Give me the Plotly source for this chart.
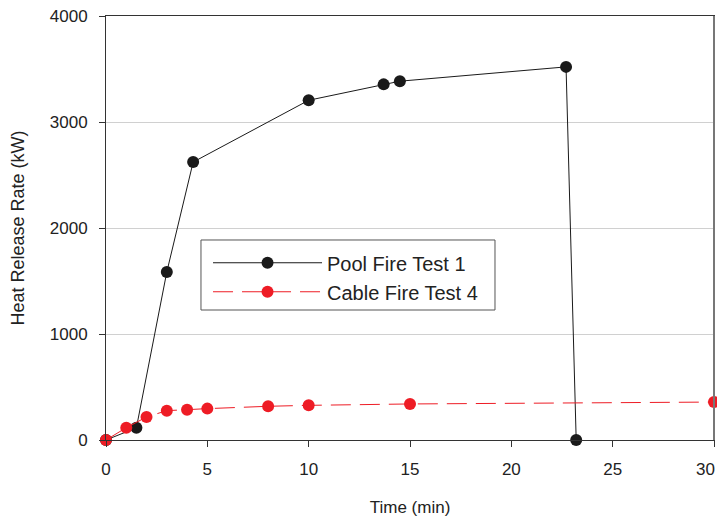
import plotly.graph_objects as go

pool_time = [0, 1.5, 3.0, 4.3, 10.0, 13.7, 14.5, 22.7, 23.2]
pool_hrr = [0, 115, 1585, 2622, 3205, 3355, 3385, 3520, 0]

cable_time = [0, 1, 2, 3, 4, 5, 8, 10, 15, 30]
cable_hrr = [0, 116, 217, 277, 286, 296, 318, 327, 340, 358]

x_ticks = [0, 5, 10, 15, 20, 25, 30]
y_ticks = [0, 1000, 2000, 3000, 4000]

font = "Liberation Sans, Arial, sans-serif"

fig = go.Figure()
fig.add_trace(go.Scatter(
    x=pool_time, y=pool_hrr, mode="lines+markers", name="Pool Fire Test 1",
    line=dict(color="#1a1a1a", width=1),
    marker=dict(color="#1a1a1a", size=12),
    cliponaxis=False,
))
fig.add_trace(go.Scatter(
    x=cable_time, y=cable_hrr, mode="lines+markers", name="Cable Fire Test 4",
    line=dict(color="#ee1c25", width=1, dash="20px,9px"),
    marker=dict(color="#ee1c25", size=12),
    cliponaxis=False,
))

# legend frame
fig.add_shape(type="rect", xref="paper", yref="paper",
              x0=0.1562, x1=0.6398, y0=0.3066, y1=0.4717,
              line=dict(color="#555", width=1), fillcolor="white", layer="below")
# grey right frame edge
fig.add_shape(type="line", xref="paper", yref="paper", x0=1, x1=1, y0=0, y1=1,
              line=dict(color="#777", width=2), layer="above")

# last x tick label kept inside the visible page edge
x_text = [str(v) for v in x_ticks]
last_label = x_text[-1]
x_text[-1] = ""
fig.add_annotation(x=x_ticks[-1], xref="x", y=-0.0684, yref="paper",
                   text=last_label, showarrow=False, xanchor="right", yanchor="middle",
                   xshift=3, font=dict(size=17, color="#222"))

# the page adds an 8px body margin, so margins are shifted by 8px
fig.update_layout(
    width=725, height=511,
    margin=dict(l=98, r=19, t=8, b=79),
    paper_bgcolor="white", plot_bgcolor="white",
    font=dict(family=font, size=17, color="#222"),
    showlegend=True,
    legend=dict(
        x=0.1678, y=0.464, xanchor="left", yanchor="top",
        bgcolor="rgba(0,0,0,0)", borderwidth=0,
        font=dict(size=20, color="#222"), itemwidth=109,
        tracegroupgap=0,
    ),
    xaxis=dict(
        range=[0, 30], tickvals=x_ticks, ticktext=x_text,
        showgrid=False, zeroline=False, automargin=False, ticklabeloverflow="allow",
        showline=True, linecolor="#333", linewidth=1, mirror=True,
        ticks="outside", ticklen=6, tickcolor="#333", ticklabelstandoff=8,
        title=dict(text="Time (min)", standoff=22, font=dict(size=17)),
    ),
    yaxis=dict(
        range=[0, 4000], tickvals=y_ticks, ticktext=[str(v) for v in y_ticks],
        showgrid=True, gridcolor="#d0d0d0", gridwidth=1, zeroline=False,
        automargin=False, ticklabeloverflow="allow",
        showline=True, linecolor="#333", linewidth=1, mirror=True,
        ticks="outside", ticklen=6, tickcolor="#333", ticklabelstandoff=8,
        title=dict(text="Heat Release Rate (kW)", standoff=21, font=dict(size=18)),
    ),
)

fig.write_html("out.html")
